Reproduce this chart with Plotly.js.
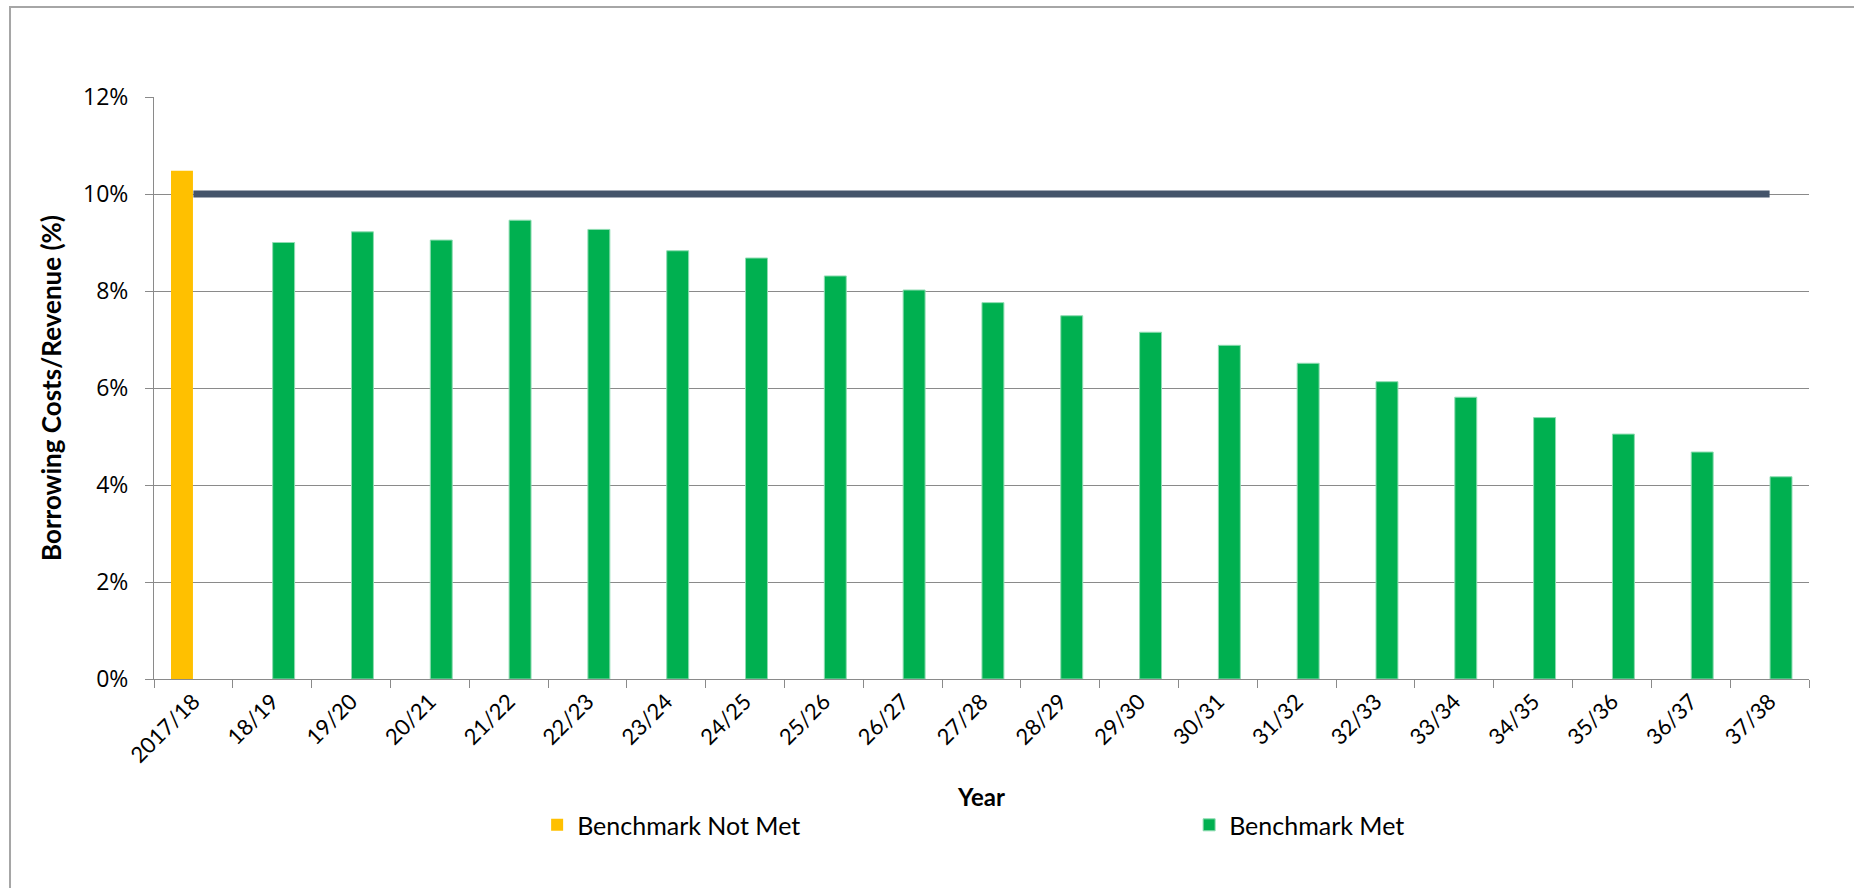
<!DOCTYPE html>
<html>
<head>
<meta charset="utf-8">
<script src="https://cdn.plot.ly/plotly-3.0.1.min.js"></script>
<style>
  html, body { margin: 0; padding: 0; background: #ffffff; overflow: hidden; }
  #chart { width: 1854px; height: 888px; }
</style>
</head>
<body>
<div id="chart"></div>
<script>
// Categories (financial years)
const years = ["2017/18", "18/19", "19/20", "20/21", "21/22", "22/23", "23/24", "24/25", "25/26", "26/27", "27/28",
               "28/29", "29/30", "30/31", "31/32", "32/33", "33/34", "34/35", "35/36", "36/37", "37/38"];

// Borrowing costs / revenue (%) where the benchmark was not met
const notMet = [10.48, null, null, null, null, null, null, null, null, null, null,
                null, null, null, null, null, null, null, null, null, null];

// Borrowing costs / revenue (%) where the benchmark was met
const met = [null, 9.0, 9.22, 9.05, 9.46, 9.27, 8.83, 8.68, 8.31, 8.02, 7.76,
             7.49, 7.15, 6.88, 6.51, 6.13, 5.81, 5.39, 5.05, 4.68, 4.17];

// Benchmark limit (%)
const benchmark = [10, 10, 10, 10, 10, 10, 10, 10, 10, 10, 10,
                   10, 10, 10, 10, 10, 10, 10, 10, 10, 10];

// Y-axis tick values and labels
const yTicks = [0, 2, 4, 6, 8, 10, 12];
const yTickLabels = ["0%", "2%", "4%", "6%", "8%", "10%", "12%"];

const calibriLike = "Lato, 'Open Sans', sans-serif";
const tickFontY = "'Open Sans', Lato, sans-serif";
const gridGrey = "#8a8a8a";

const traces = [
  {
    type: "bar",
    name: "Benchmark Not Met",
    x: years,
    y: notMet,
    marker: { color: "#FFC000" },
    hoverinfo: "x+y"
  },
  {
    type: "bar",
    name: "Benchmark Met",
    x: years,
    y: met,
    marker: { color: "#00B050", line: { color: "#8fdcb2", width: 1 } },
    hoverinfo: "x+y"
  },
  {
    type: "scatter",
    mode: "lines",
    name: "Benchmark",
    x: years,
    y: benchmark,
    line: { color: "#44546A", width: 7 },
    showlegend: false
  }
];

const layout = {
  width: 1854,
  height: 888,
  paper_bgcolor: "#ffffff",
  plot_bgcolor: "#ffffff",
  margin: { l: 154, r: 45, t: 97, b: 209, autoexpand: false },
  barmode: "group",
  bargap: 0.42,
  bargroupgap: 0.04,
  font: { family: calibriLike, color: "#000000" },
  xaxis: {
    type: "category",
    tickangle: -45,
    tickson: "boundaries",
    ticks: "outside",
    ticklen: 8,
    tickcolor: gridGrey,
    showline: true,
    linecolor: gridGrey,
    linewidth: 1,
    showgrid: false,
    automargin: false,
    tickfont: { family: calibriLike, size: 22, color: "#000000" },
    title: { text: "<b>Year</b>", font: { family: calibriLike, size: 24, color: "#000000" }, standoff: 22 }
  },
  yaxis: {
    range: [0, 12],
    tickvals: yTicks,
    ticktext: yTickLabels,
    ticks: "outside",
    ticklen: 8,
    tickcolor: gridGrey,
    showline: true,
    linecolor: gridGrey,
    linewidth: 1,
    showgrid: true,
    gridcolor: gridGrey,
    gridwidth: 1,
    zeroline: false,
    automargin: false,
    ticklabelstandoff: 12,
    tickfont: { family: tickFontY, size: 23, color: "#000000" },
    title: { text: "\u00A0\u00A0\u00A0\u00A0\u00A0\u00A0<b>Borrowing Costs/Revenue (%)</b>", font: { family: calibriLike, size: 26, color: "#000000" }, standoff: 13 }
  },
  legend: {
    orientation: "h",
    x: 0.2315,
    xanchor: "left",
    y: -0.251,
    yanchor: "middle",
    entrywidth: 607,
    entrywidthmode: "pixels",
    font: { family: calibriLike, size: 25, color: "#000000" },
    bgcolor: "rgba(0,0,0,0)"
  },
  shapes: [
    {
      type: "rect",
      xref: "paper", yref: "paper",
      x0: -0.087, x1: 1.2,
      y0: -0.6, y1: 1.1546,
      line: { color: "#a6a6a6", width: 2 },
      fillcolor: "rgba(0,0,0,0)",
      layer: "below"
    }
  ],
  showlegend: true
};

Plotly.newPlot("chart", traces, layout, { displayModeBar: false, staticPlot: true });
</script>
</body>
</html>
